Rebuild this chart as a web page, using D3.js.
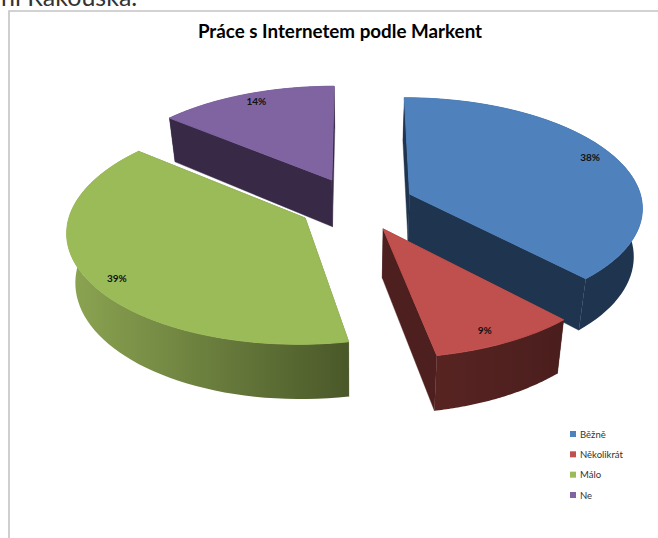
<!DOCTYPE html>
<html>
<head>
<meta charset="utf-8">
<script src="https://cdn.jsdelivr.net/npm/d3@7/dist/d3.min.js"></script>
<style>
html, body { margin: 0; padding: 0; background: #fff; overflow: hidden; }
svg { display: block; }
text { font-family: Lato, "Open Sans", sans-serif; }
</style>
</head>
<body>
<svg id="chart" width="658" height="538"></svg>
<script>
const categories = ["Běžně", "Několikrát", "Málo", "Ne"];
const shares = [38, 9, 39, 14];
const topColors = ["#4f81bd", "#c0504d", "#9bbb59", "#8064a2"];
const sideColors = ["#1f344e", "#4d1f1e", "#3d4a24", "#382a46"];
const rimFrom = ["#1f344e", "#582422", "#8ca552", "#382a46"];
const rimTo = ["#1f344e", "#4a1e1d", "#4a5829", "#382a46"];
const chartTitle = "Práce s Internetem podle Markent";
const captionLine = "ní Rakouska.";

// Oblique perspective camera for the exploded pie.
const view = { cx: 356, cy: 204, rx: 233, ry: 109, persp: 0.11, explode: 0.25, depth: 48, floorShrink: 0.97 };
const labelRadius = 0.89;
// Small pixel offsets that keep each percentage clear of its slice edges.
const labelNudge = [[-2, -3], [-7, 1], [5, 6], [2, -2]];

const svg = d3.select("#chart");
const defs = svg.append("defs");

const slices = d3.pie().sort(null).value(d => d)(shares);

// Maps a point on the unit disc (u right, v away from the viewer) to the page.
function project(u, v, floor) {
  const s = 1 / (1 + view.persp * v);
  const shrink = floor ? view.floorShrink : 1;
  return [
    view.cx + view.rx * u * s * shrink,
    view.cy - view.ry * v * s + (floor ? view.depth * s : 0)
  ];
}

function sliceGeometry(slice) {
  const mid = (slice.startAngle + slice.endAngle) / 2;
  const ox = Math.sin(mid) * view.explode;
  const oy = Math.cos(mid) * view.explode;
  const at = (angle, r, floor) => project(ox + r * Math.sin(angle), oy + r * Math.cos(angle), floor);
  const span = d3.range(0, 61).map(i => slice.startAngle + (slice.endAngle - slice.startAngle) * i / 60);
  return { mid, at, span };
}

const line = d3.line();

// Painted far to near so nearer slices cover the ones behind.
const paintOrder = [3, 0, 2, 1];

paintOrder.forEach(i => {
  const geo = sliceGeometry(slices[i]);
  const { at, span } = geo;
  const g = svg.append("g");

  const xs = span.flatMap(a => [at(a, 1, false)[0], at(a, 1, true)[0]]);
  const grad = defs.append("linearGradient")
    .attr("id", "rim" + i)
    .attr("gradientUnits", "userSpaceOnUse")
    .attr("x1", d3.min(xs)).attr("x2", d3.max(xs))
    .attr("y1", 0).attr("y2", 0);
  grad.append("stop").attr("offset", 0).attr("stop-color", rimFrom[i]);
  grad.append("stop").attr("offset", 1).attr("stop-color", rimTo[i]);

  [slices[i].startAngle, slices[i].endAngle].forEach(a => {
    g.append("path")
      .attr("d", line([at(a, 0, false), at(a, 1, false), at(a, 1, true), at(a, 0, true)]) + "Z")
      .attr("fill", sideColors[i])
      .attr("stroke", sideColors[i]).attr("stroke-width", 0.4);
  });

  const upper = span.map(a => at(a, 1, false));
  const lower = span.map(a => at(a, 1, true)).reverse();
  g.append("path")
    .attr("d", line(upper.concat(lower)) + "Z")
    .attr("fill", `url(#rim${i})`);

  // The top face carries a hairline in its own colour so the walls beneath never peek out.
  g.append("path")
    .attr("d", line([at(0, 0, false)].concat(upper)) + "Z")
    .attr("fill", topColors[i])
    .attr("stroke", topColors[i]).attr("stroke-width", 1);
});

// Percentage labels sit on the top face along each slice's mid angle.
slices.forEach((slice, i) => {
  const geo = sliceGeometry(slice);
  const [x, y] = geo.at(geo.mid, labelRadius, false);
  svg.append("text")
    .attr("x", x + labelNudge[i][0]).attr("y", y + labelNudge[i][1])
    .attr("text-anchor", "middle").attr("dominant-baseline", "central")
    .attr("font-size", 10).attr("font-weight", 700).attr("fill", "#111")
    .text(shares[i] + "%");
});

// Chart frame: only the top and left edges fall inside the page.
svg.append("path")
  .attr("d", "M658 11H9V538")
  .attr("fill", "none").attr("stroke", "#c4c4c4").attr("stroke-width", 1.6);

svg.append("text")
  .attr("x", 1).attr("y", 6)
  .attr("font-family", "'Open Sans', sans-serif")
  .attr("font-size", 25).attr("fill", "#333")
  .text(captionLine);

svg.append("text")
  .attr("x", 340).attr("y", 38)
  .attr("text-anchor", "middle")
  .attr("font-size", 18.8).attr("font-weight", 700).attr("fill", "#000")
  .text(chartTitle);

// Legend column.
const legendY = d3.scalePoint().domain(categories).range([434, 495]);
const legend = svg.append("g").selectAll("g").data(categories).join("g")
  .attr("transform", d => `translate(570,${legendY(d)})`);
legend.append("rect")
  .attr("x", 0).attr("y", -3).attr("width", 6).attr("height", 6)
  .attr("fill", (d, i) => topColors[i]);
legend.append("text")
  .attr("x", 10).attr("y", 0)
  .attr("dominant-baseline", "central")
  .attr("font-size", 9.5).attr("fill", "#333")
  .text(d => d);
</script>
</body>
</html>
